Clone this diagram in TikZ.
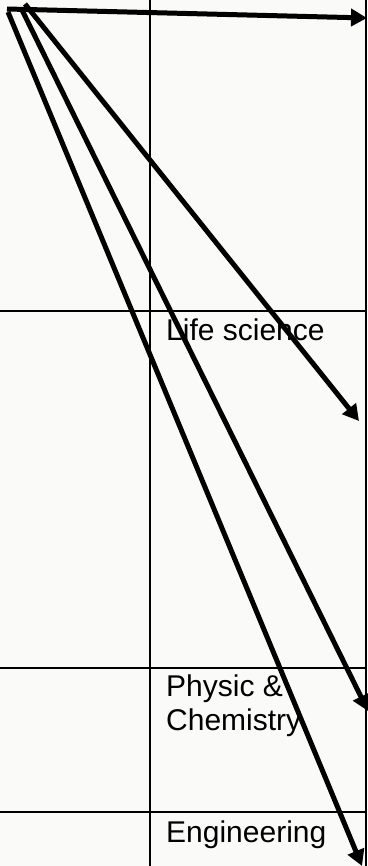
\documentclass[tikz,border=0pt]{standalone}
\usepackage{fontspec}
\setmainfont{Liberation Sans}
\usetikzlibrary{arrows.meta}
\definecolor{paper}{RGB}{250,250,248}
\begin{document}
\begin{tikzpicture}[x=1pt,y=-1pt,
  grid/.style={line width=1.6pt},
  fan/.style={line width=5pt,-{Triangle[length=16pt,width=17pt]}},
  every node/.style={anchor=base west,inner sep=0pt,align=left,font=\fontsize{30}{34}\selectfont}]
\fill[paper] (0,0) rectangle (367,866);
\useasboundingbox (0,0) rectangle (367,866);
% table lines
\draw[grid] (150,0) -- (150,866) (366,0) -- (366,866);
\draw[grid] (0,311) -- (366,311) (0,668) -- (366,668) (0,812) -- (366,812);
\node (life) at (166,340) {Life science};
\node (phys) at (166,730) {Physic \&\\Chemistry};
\node (eng) at (166,842) {Engineering};
% arrows
\coordinate (s0) at (7,9);
\coordinate (s1) at (25,4);
\coordinate (s2) at (22,10);
\coordinate (s3) at (8,12);
\coordinate (t0) at (367,18);
\coordinate (t1) at (359,421);
\coordinate (t2) at (368,711);
\coordinate (t3) at (362,866);
\draw[fan] (s0) -- (t0);
\draw[fan] (s1) -- (t1);
\draw[fan] (s2) -- (t2);
\draw[fan] (s3) -- (t3);
\end{tikzpicture}
\end{document}
